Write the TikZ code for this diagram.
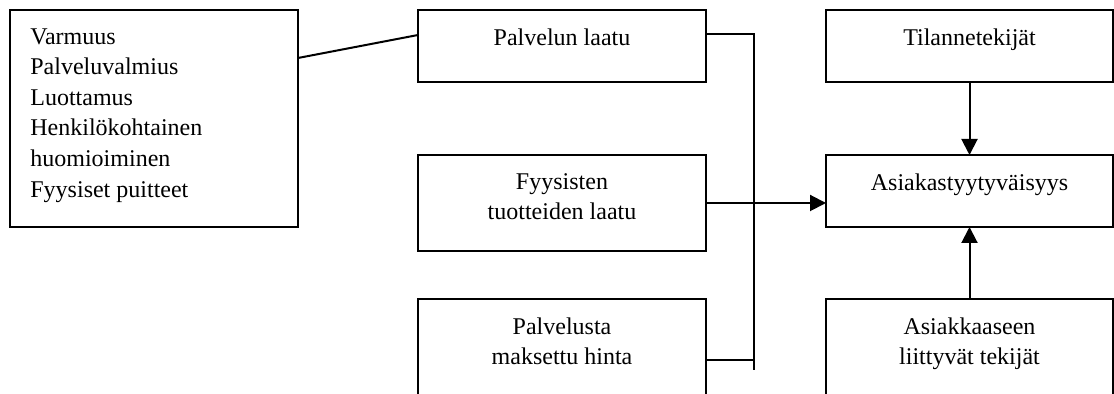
\documentclass[tikz,border=0pt]{standalone}
\usepackage{fontspec}
\setmainfont{Liberation Serif}
\usetikzlibrary{arrows.meta}
\begin{document}
\begin{tikzpicture}[x=0.5pt,y=-0.5pt,
  box/.style={draw,line width=1pt,inner sep=0pt,outer sep=0pt,anchor=north west,minimum width=144pt},
  lbl/.style={anchor=north,inner sep=0pt,align=center,font=\fontsize{12}{15.3}\selectfont},
  conn/.style={line width=1pt},
  arr/.style={line width=1pt,-{Triangle[length=8pt,width=8pt]}}]
\clip (0,0) rectangle (1114,394);
% boxes
\node[box,minimum height=108.5pt] (l) at (10,10) {};
\node[box,minimum height=36pt] (p1) at (418,10) {};
\node[box,minimum height=48pt] (p2) at (418,155) {};
\node[box,minimum height=50.5pt] (p3) at (418,299) {};
\node[box,minimum width=143.5pt,minimum height=36pt] (r1) at (826,10) {};
\node[box,minimum width=143.5pt,minimum height=36pt] (r2) at (826,155) {};
\node[box,minimum width=143.5pt,minimum height=50.5pt] (r3) at (826,299) {};
% texts
\node[lbl,anchor=north west,align=left] (lt) at ([xshift=10pt,yshift=-9pt]l.north west)
  {Varmuus\\Palveluvalmius\\Luottamus\\Henkilökohtainen\\huomioiminen\\Fyysiset puitteet};
\node[lbl] (p1t) at ([yshift=-9pt]p1.north) {Palvelun laatu};
\node[lbl] (p2t) at ([yshift=-9pt]p2.north) {Fyysisten\\tuotteiden laatu};
\node[lbl] (p3t) at ([yshift=-9pt]p3.north) {Palvelusta\\maksettu hinta};
\node[lbl] (r1t) at ([yshift=-9pt]r1.north) {Tilannetekijät};
\node[lbl] (r2t) at ([yshift=-9pt]r2.north) {Asiakastyytyväisyys};
\node[lbl] (r3t) at ([yshift=-9pt]r3.north) {Asiakkaaseen\\liittyvät tekijät};
% connectors
\coordinate (jt) at (754,34);
\coordinate (jb) at (754,370);
\coordinate (p3e) at ([yshift=-30.5pt]p3.north east);
\draw[conn] ([yshift=-24pt]l.north east) -- ([yshift=-12.5pt]p1.north west);
\draw[conn] ([yshift=-12pt]p1.north east) -- (jt) -- (jb);
\draw[conn] (p3e) -- (jb |- p3e);
\draw[arr] (p2.east) -- (p2.east -| r2.west);
\draw[arr] (r1.south) -- (r2.north);
\draw[arr] (r3.north) -- (r2.south);
\end{tikzpicture}
\end{document}
